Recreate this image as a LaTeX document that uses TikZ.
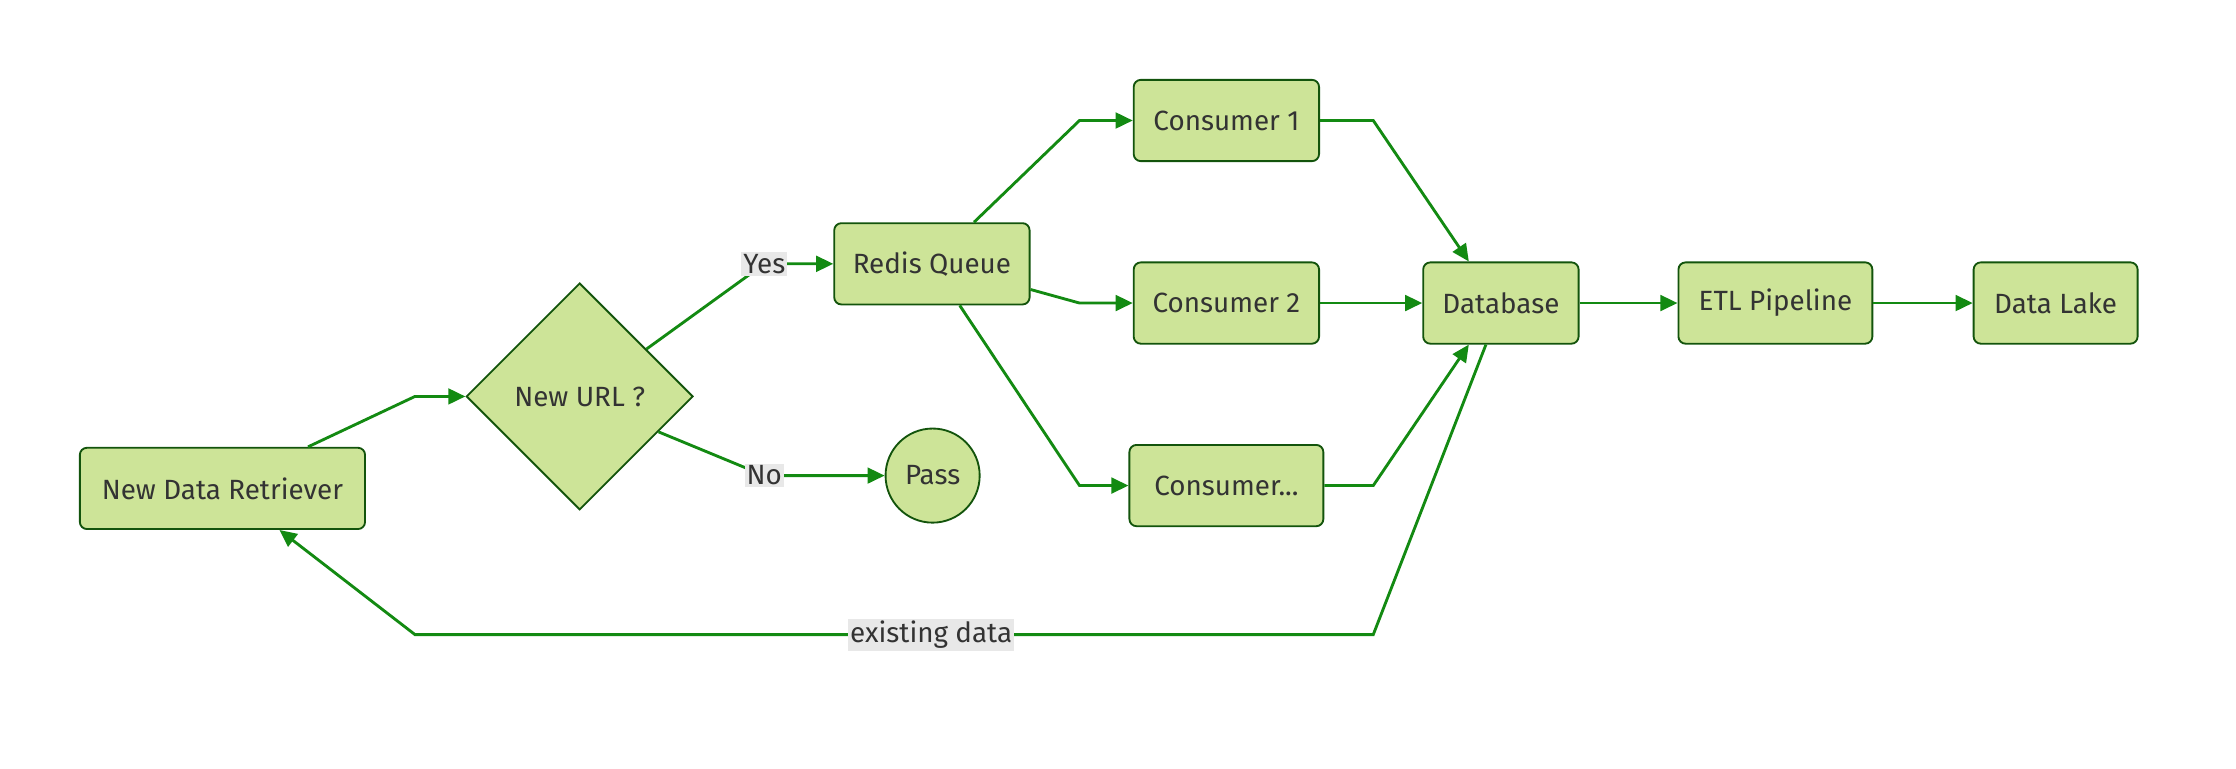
\documentclass[tikz,border=0pt]{standalone}
\usepackage{fontspec}
\setmainfont{Fira Sans}
\usetikzlibrary{shapes.geometric,arrows.meta,calc}
\definecolor{nodefill}{HTML}{CDE498}
\definecolor{nodeline}{HTML}{13540C}
\definecolor{edgecol}{HTML}{138A12}
\definecolor{txt}{HTML}{333333}
\definecolor{lblbg}{HTML}{E8E8E8}
\begin{document}
\begin{tikzpicture}[x=1pt,y=-1pt,
  font=\fontsize{19.5pt}{23pt}\selectfont,
  box/.style={draw=nodeline,fill=nodefill,line width=1.3pt,rounded corners=5pt,minimum height=57pt,inner sep=0pt,text=txt},
  dia/.style={draw=nodeline,fill=nodefill,line width=1.3pt,diamond,aspect=1,minimum size=159pt,inner sep=0pt,text=txt},
  circ/.style={draw=nodeline,fill=nodefill,line width=1.3pt,circle,minimum size=66pt,inner sep=0pt,text=txt},
  edge/.style={draw=edgecol,line width=2pt,-{Triangle[length=12pt,width=11pt]}},
  lbl/.style={fill=lblbg,text=txt,inner sep=1.5pt}
]
\useasboundingbox (0,0) rectangle (1568,538.6);

\node[box,minimum width=200pt] (ndr) at (156,342.5) {New Data Retriever};
\node[dia] (url) at (406.5,278) {New URL ?};
\node[box,minimum width=137pt] (rq) at (653.5,185) {Redis Queue};
\node[circ] (pass) at (654,333.5) {Pass};
\node[box,minimum width=130pt] (c1) at (860,84.5) {Consumer 1};
\node[box,minimum width=130pt] (c2) at (860,212.5) {Consumer 2};
\node[box,minimum width=136pt] (c3) at (860,340.5) {Consumer...};
\node[box,minimum width=109pt] (db) at (1052.5,212.5) {Database};
\node[box,minimum width=136pt] (etl) at (1245,212.5) {ETL Pipeline};
\node[box,minimum width=115pt] (dl) at (1441.5,212.5) {Data Lake};

\coordinate (yes) at (536,185);
\coordinate (no) at (536,333.5);
\coordinate (b1) at (291,278);
\coordinate (b2) at (757,84.5);
\coordinate (b3) at (757,212.5);
\coordinate (b4) at (757,340.5);
\coordinate (b5) at (963,84.5);
\coordinate (b6) at (963,340.5);
\coordinate (b7) at (963,445);
\coordinate (b8) at (291,445);
\coordinate (ex) at (653,445);

\draw[edge] ([xshift=60pt]ndr.north) -- (b1) -- (url.west);
\draw[edge] ($(url.north)!0.585!(url.east)$) -- (yes) -- (rq.west);
\draw[edge] ($(url.east)!0.31!(url.south)$) -- (no) -- (pass.west);
\draw[edge] ([xshift=29.5pt]rq.north) -- (b2) -- (c1.west);
\draw[edge] ([yshift=-18pt]rq.east) -- (b3) -- (c2.west);
\draw[edge] ([xshift=19.5pt]rq.south) -- (b4) -- (c3.west);
\draw[edge] (c1.east) -- (b5) -- ([xshift=-22.5pt]db.north);
\draw[edge] (c2.east) -- (db.west);
\draw[edge] (c3.east) -- (b6) -- ([xshift=-22.5pt]db.south);
\draw[edge] (db.east) -- (etl.west);
\draw[edge] (etl.east) -- (dl.west);
\draw[edge] ([xshift=-10.5pt]db.south) -- (b7) -- (b8) -- ([xshift=40pt]ndr.south);

\node[lbl] (lyes) at (yes) {Yes};
\node[lbl] (lno) at (no) {No};
\node[lbl] (lex) at (ex) {existing data};
\end{tikzpicture}
\end{document}
